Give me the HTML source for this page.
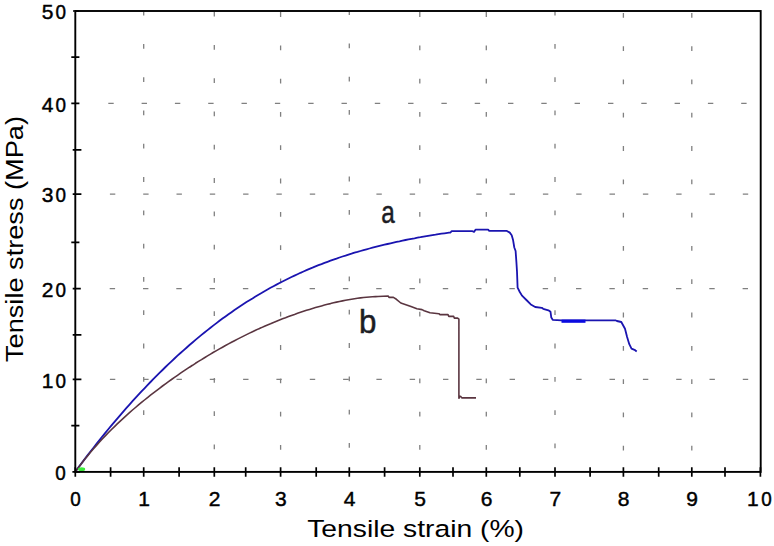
<!DOCTYPE html><html><head><meta charset="utf-8"><style>html,body{margin:0;padding:0;background:#fff;}svg{display:block;}text{font-family:"Liberation Sans",sans-serif;}</style></head><body>
<svg width="774" height="546" viewBox="0 0 774 546">
<rect width="774" height="546" fill="#fff"/>
<path d="M143.7 11.5V15.4M143.7 43.9V48.7M143.7 77.2V82.0M143.7 110.5V115.3M143.7 143.8V148.6M143.7 177.1V181.9M143.7 210.4V215.2M143.7 243.7V248.5M143.7 277.0V281.8M143.7 310.3V315.1M143.7 343.6V348.4M143.7 376.9V381.7M143.7 410.2V415.0M214.3 11.6V16.4M214.3 44.9V49.7M214.3 78.2V83.0M214.3 111.5V116.3M214.3 144.8V149.6M214.3 178.1V182.9M214.3 211.4V216.2M214.3 244.7V249.5M214.3 278.0V282.8M214.3 311.3V316.1M214.3 344.6V349.4M214.3 377.9V382.7M214.3 411.2V416.0M214.3 444.5V449.3M280.6 12.1V16.9M280.6 45.4V50.2M280.6 78.7V83.5M280.6 112.0V116.8M280.6 145.3V150.1M280.6 178.6V183.4M280.6 211.9V216.7M280.6 245.2V250.0M280.6 278.5V283.3M280.6 311.8V316.6M280.6 345.1V349.9M280.6 378.4V383.2M280.6 411.7V416.5M280.6 445.0V449.8M349.3 11.5V14.9M349.3 43.4V48.2M349.3 76.7V81.5M349.3 110.0V114.8M349.3 143.3V148.1M349.3 176.6V181.4M349.3 209.9V214.7M349.3 243.2V248.0M349.3 276.5V281.3M349.3 309.8V314.6M349.3 343.1V347.9M349.3 376.4V381.2M349.3 409.7V414.5M349.3 443.0V447.8M419.8 12.1V16.9M419.8 45.4V50.2M419.8 78.7V83.5M419.8 112.0V116.8M419.8 145.3V150.1M419.8 178.6V183.4M419.8 211.9V216.7M419.8 245.2V250.0M419.8 278.5V283.3M419.8 311.8V316.6M419.8 345.1V349.9M419.8 378.4V383.2M419.8 411.7V416.5M419.8 445.0V449.8M486.3 12.1V16.9M486.3 45.4V50.2M486.3 78.7V83.5M486.3 112.0V116.8M486.3 145.3V150.1M486.3 178.6V183.4M486.3 211.9V216.7M486.3 245.2V250.0M486.3 278.5V283.3M486.3 311.8V316.6M486.3 345.1V349.9M486.3 378.4V383.2M486.3 411.7V416.5M486.3 445.0V449.8M555.0 11.5V15.4M555.0 43.9V48.7M555.0 77.2V82.0M555.0 110.5V115.3M555.0 143.8V148.6M555.0 177.1V181.9M555.0 210.4V215.2M555.0 243.7V248.5M555.0 277.0V281.8M555.0 310.3V315.1M555.0 343.6V348.4M555.0 376.9V381.7M555.0 410.2V415.0M555.0 443.5V448.3M623.4 12.9V17.7M623.4 46.2V51.0M623.4 79.5V84.3M623.4 112.8V117.6M623.4 146.1V150.9M623.4 179.4V184.2M623.4 212.7V217.5M623.4 246.0V250.8M623.4 279.3V284.1M623.4 312.6V317.4M623.4 345.9V350.7M623.4 379.2V384.0M623.4 412.5V417.3M623.4 445.8V450.6M691.8 12.9V17.7M691.8 46.2V51.0M691.8 79.5V84.3M691.8 112.8V117.6M691.8 146.1V150.9M691.8 179.4V184.2M691.8 212.7V217.5M691.8 246.0V250.8M691.8 279.3V284.1M691.8 312.6V317.4M691.8 345.9V350.7M691.8 379.2V384.0M691.8 412.5V417.3M691.8 445.8V450.6M109.9 379.4H115.3M143.2 379.4H148.6M176.5 379.4H181.9M209.8 379.4H215.2M243.1 379.4H248.5M276.4 379.4H281.8M309.8 379.4H315.2M343.1 379.4H348.5M376.4 379.4H381.8M409.7 379.4H415.1M443.0 379.4H448.4M476.3 379.4H481.7M509.6 379.4H515.0M542.9 379.4H548.3M576.2 379.4H581.6M609.5 379.4H615.0M642.9 379.4H648.3M676.2 379.4H681.6M709.5 379.4H714.9M742.8 379.4H748.2M109.7 288.7H115.1M143.0 288.7H148.4M176.3 288.7H181.7M209.6 288.7H215.0M242.9 288.7H248.3M276.3 288.7H281.7M309.6 288.7H315.0M342.9 288.7H348.3M376.2 288.7H381.6M409.5 288.7H414.9M442.8 288.7H448.2M476.1 288.7H481.5M509.4 288.7H514.8M542.7 288.7H548.1M576.0 288.7H581.4M609.4 288.7H614.8M642.7 288.7H648.1M676.0 288.7H681.4M709.3 288.7H714.7M742.6 288.7H748.0M109.9 194.2H115.3M143.2 194.2H148.6M176.5 194.2H181.9M209.8 194.2H215.2M243.1 194.2H248.5M276.4 194.2H281.8M309.8 194.2H315.2M343.1 194.2H348.5M376.4 194.2H381.8M409.7 194.2H415.1M443.0 194.2H448.4M476.3 194.2H481.7M509.6 194.2H515.0M542.9 194.2H548.3M576.2 194.2H581.6M609.5 194.2H615.0M642.9 194.2H648.3M676.2 194.2H681.6M709.5 194.2H714.9M742.8 194.2H748.2M108.3 103.4H113.7M141.6 103.4H147.0M174.9 103.4H180.3M208.2 103.4H213.6M241.5 103.4H246.9M274.9 103.4H280.2M308.2 103.4H313.6M341.5 103.4H346.9M374.8 103.4H380.2M408.1 103.4H413.5M441.4 103.4H446.8M474.7 103.4H480.1M508.0 103.4H513.4M541.3 103.4H546.7M574.6 103.4H580.0M608.0 103.4H613.4M641.3 103.4H646.7M674.6 103.4H680.0M707.9 103.4H713.3M741.2 103.4H746.6" stroke="#808080" stroke-width="1.3" fill="none"/>
<polyline points="75.5,471.5 78.5,467.4 81.5,463.4 84.5,459.4 87.5,455.4 90.5,451.5 93.5,447.7 96.5,443.9 99.5,440.1 102.5,436.3 105.5,432.7 108.5,429.0 111.5,425.4 114.5,421.8 117.5,418.3 120.5,414.8 123.5,411.3 126.5,407.9 129.5,404.6 132.5,401.2 135.5,397.9 138.5,394.7 141.5,391.4 144.5,388.3 147.5,385.1 150.5,382.0 153.5,378.9 156.5,375.9 159.5,372.9 162.5,370.0 165.5,367.0 168.5,364.2 171.5,361.3 174.5,358.5 177.5,355.7 180.5,353.0 183.5,350.3 186.5,347.7 189.5,345.0 192.5,342.5 195.5,339.9 198.5,337.4 201.5,334.9 204.5,332.5 207.5,330.1 210.5,327.7 213.5,325.4 216.5,323.1 219.5,320.8 222.5,318.6 225.5,316.4 228.5,314.3 231.5,312.2 234.5,310.1 237.5,308.1 240.5,306.1 243.5,304.1 246.5,302.1 249.5,300.2 252.5,298.4 255.5,296.5 258.5,294.7 261.5,293.0 264.5,291.2 267.5,289.5 270.5,287.8 273.5,286.2 276.5,284.6 279.5,283.0 282.5,281.5 285.5,280.0 288.5,278.5 291.5,277.0 294.5,275.6 297.5,274.2 300.5,272.8 303.5,271.5 306.5,270.2 309.5,268.9 312.5,267.7 315.5,266.4 318.5,265.2 321.5,264.1 324.5,262.9 327.5,261.8 330.5,260.7 333.5,259.6 336.5,258.6 339.5,257.5 342.5,256.5 345.5,255.6 348.5,254.6 351.5,253.7 354.5,252.7 357.5,251.9 360.5,251.0 363.5,250.1 366.5,249.3 369.5,248.5 372.5,247.7 375.5,246.9 378.5,246.1 381.5,245.4 384.5,244.7 387.5,244.0 390.5,243.3 393.5,242.6 396.5,241.9 399.5,241.3 402.5,240.6 405.5,240.0 408.5,239.4 411.5,238.8 414.5,238.3 417.5,237.7 420.5,237.2 423.5,236.6 426.5,236.1 429.5,235.6 432.5,235.1 435.5,234.7 438.5,234.2 441.5,233.7 444.5,233.3 447.5,232.9 449.0,232.7 450.5,232.6 451.5,231.2 472.5,231.2 474,231.9 475.5,229.7 488.3,229.7 489,230.8 506.5,230.8 509.8,232.6 511.7,235.2 513,239.7 514.3,247.5 515.6,251 516.4,262 517,271.5 517.6,287.6 519.8,292 522,295.6 526.4,300 530.8,304.4 535.2,307 541.8,307.8 543.2,308.8 548.4,310.3 550.5,311.8 551.3,317.6 552.7,319.8 561.5,320.3 615.4,320.3 616.9,321 621.3,322 625,328.8 627.1,336.9 629.3,344.2 631.5,348.6 634.5,349.8 636.7,351.5" fill="none" stroke="#1a14b0" stroke-width="1.8" stroke-linejoin="round"/>
<path d="M561.5 321.2H585.5" stroke="#0a0ae0" stroke-width="3.2"/>
<polyline points="75.5,471.5 78.5,467.4 81.5,463.5 84.5,459.6 87.5,455.9 90.5,452.3 93.5,448.8 96.5,445.4 99.5,442.0 102.5,438.8 105.5,435.6 108.5,432.5 111.5,429.5 114.5,426.6 117.5,423.7 120.5,420.8 123.5,418.1 126.5,415.3 129.5,412.7 132.5,410.0 135.5,407.5 138.5,404.9 141.5,402.4 144.5,400.0 147.5,397.6 150.5,395.2 153.5,392.9 156.5,390.6 159.5,388.3 162.5,386.0 165.5,383.8 168.5,381.7 171.5,379.5 174.5,377.4 177.5,375.3 180.5,373.2 183.5,371.2 186.5,369.2 189.5,367.2 192.5,365.3 195.5,363.3 198.5,361.4 201.5,359.6 204.5,357.7 207.5,355.9 210.5,354.1 213.5,352.3 216.5,350.6 219.5,348.9 222.5,347.2 225.5,345.5 228.5,343.9 231.5,342.3 234.5,340.7 237.5,339.1 240.5,337.6 243.5,336.1 246.5,334.6 249.5,333.1 252.5,331.7 255.5,330.3 258.5,328.9 261.5,327.6 264.5,326.2 267.5,324.9 270.5,323.7 273.5,322.4 276.5,321.2 279.5,320.0 282.5,318.8 285.5,317.7 288.5,316.5 291.5,315.4 294.5,314.4 297.5,313.3 300.5,312.3 303.5,311.3 306.5,310.3 309.5,309.4 312.5,308.5 315.5,307.6 318.5,306.7 321.5,305.9 324.5,305.1 327.5,304.3 330.5,303.6 333.5,302.8 336.5,302.1 339.5,301.5 342.5,300.9 345.5,300.3 348.5,299.7 351.5,299.2 354.5,298.7 357.5,298.3 360.5,297.9 363.5,297.5 366.5,297.2 369.5,297.0 372.5,296.8 375.5,296.6 378.0,296.5 388.3,296 389,297.4 393.4,297.4 396.4,299.3 400.8,303 406.6,304.9 411,306.6 416.9,308.8 422,309.6 424.2,310.7 430,312.8 438.9,313.7 440,314.6 448,314.6 448.8,316.4 453.7,316.4 454.3,318.1 457.6,318.1 458.9,319.2 458.9,398.3 459.8,396.3 460.9,396.6 461.8,397.9 476,397.9" fill="none" stroke="#5a3540" stroke-width="1.6" stroke-linejoin="round"/>
<ellipse cx="81.6" cy="469.2" rx="3.6" ry="1.9" fill="#3cee3c"/>
<rect x="75.3" y="11.0" width="685.4" height="460.9" fill="none" stroke="#000" stroke-width="1.9"/>
<path d="M75.3 467.2V476.7M110.6 467.2V476.7M143.7 467.2V476.7M179.1 467.2V476.7M214.3 467.2V476.7M245.7 467.2V476.7M280.6 467.2V476.7M316.2 467.2V476.7M349.3 467.2V476.7M384.6 467.2V476.7M419.8 467.2V476.7M453.0 467.2V476.7M486.3 467.2V476.7M519.8 467.2V476.7M555.0 467.2V476.7M590.1 467.2V476.7M623.4 467.2V476.7M658.7 467.2V476.7M691.8 467.2V476.7M725.0 467.2V476.7M760.4 467.2V476.7M72.4 471.85H79.9M71.3 425.60H79.4M72.7 379.40H81.4M72.7 334.90H81.4M72.7 288.70H80.8M71.3 242.45H79.4M72.7 194.15H81.4M72.7 149.80H81.4M71.3 103.40H79.4M71.3 57.10H79.4M73 11.00H79" stroke="#000" stroke-width="1.7" fill="none"/>
<g font-size="21" fill="#000" stroke="#000" stroke-width="0.45"><text transform="translate(75.60,506.10) scale(0.9,1)" text-anchor="middle">0</text><text transform="translate(144.00,506.10) scale(1.0,1)" text-anchor="middle">1</text><text transform="translate(214.60,506.10) scale(1.0,1)" text-anchor="middle">2</text><text transform="translate(280.90,506.10) scale(1.0,1)" text-anchor="middle">3</text><text transform="translate(349.60,506.10) scale(1.0,1)" text-anchor="middle">4</text><text transform="translate(420.10,506.10) scale(1.0,1)" text-anchor="middle">5</text><text transform="translate(486.60,506.10) scale(1.0,1)" text-anchor="middle">6</text><text transform="translate(555.30,506.10) scale(1.0,1)" text-anchor="middle">7</text><text transform="translate(623.70,506.10) scale(1.0,1)" text-anchor="middle">8</text><text transform="translate(692.10,506.10) scale(1.0,1)" text-anchor="middle">9</text><text transform="translate(752.90,506.10) scale(1.0,1)" text-anchor="middle">1</text><text transform="translate(766.40,506.10) scale(0.9,1)" text-anchor="middle">0</text><text transform="translate(60.55,480.15) scale(0.9,1)" text-anchor="middle">0</text><text transform="translate(47.50,387.70) scale(1.0,1)" text-anchor="middle">1</text><text transform="translate(60.70,387.70) scale(0.9,1)" text-anchor="middle">0</text><text transform="translate(47.50,297.00) scale(1.0,1)" text-anchor="middle">2</text><text transform="translate(60.70,297.00) scale(0.9,1)" text-anchor="middle">0</text><text transform="translate(47.50,202.45) scale(1.0,1)" text-anchor="middle">3</text><text transform="translate(60.70,202.45) scale(0.9,1)" text-anchor="middle">0</text><text transform="translate(47.50,111.70) scale(1.0,1)" text-anchor="middle">4</text><text transform="translate(60.70,111.70) scale(0.9,1)" text-anchor="middle">0</text><text transform="translate(47.50,19.30) scale(1.0,1)" text-anchor="middle">5</text><text transform="translate(60.70,19.30) scale(0.9,1)" text-anchor="middle">0</text></g>
<text transform="translate(415.6,537.2) scale(1.164,1)" font-size="24.3" text-anchor="middle" fill="#000">Tensile strain (%)</text>
<text transform="translate(23,239) rotate(-90) scale(1.118,1)" font-size="24.3" text-anchor="middle" fill="#000">Tensile stress (MPa)</text>
<text transform="translate(381.2,222.5) scale(0.76,1)" font-size="32" fill="#1c1c24" stroke="#1c1c24" stroke-width="0.5">a</text>
<text transform="translate(359,333.3) scale(0.95,1)" font-size="33" fill="#1c1c24" stroke="#1c1c24" stroke-width="0.5">b</text>
</svg></body></html>
